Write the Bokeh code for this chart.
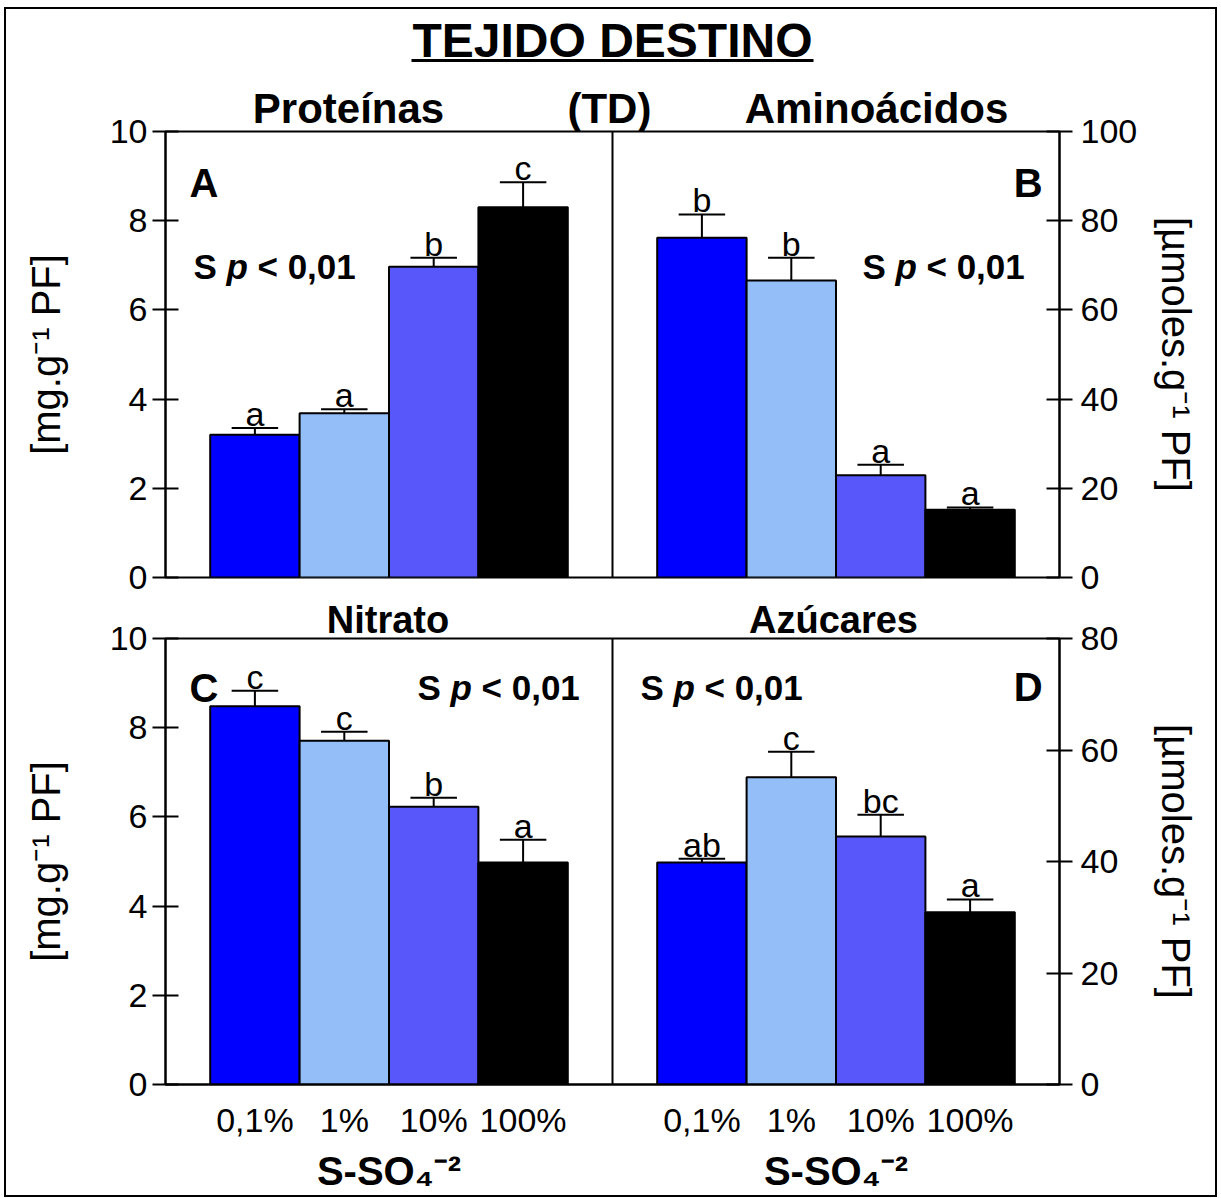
from bokeh.plotting import figure
from bokeh.models import (Range1d, LinearAxis, FixedTicker, Span, Label,
                          ColumnDataSource)
from bokeh.core.properties import value
from bokeh.layouts import column
from bokeh.embed import file_html
from bokeh.resources import INLINE

# ---------------- data ----------------
categories = ["0,1%", "1%", "10%", "100%"]
bar_colors = ["#0000FF", "#93BEF7", "#5858FA", "#000000"]

prot_vals = [3.20, 3.68, 6.97, 8.30]
prot_err = [0.15, 0.09, 0.20, 0.56]
prot_sig = ["a", "a", "b", "c"]

amino_vals = [76.2, 66.6, 22.9, 15.2]
amino_err = [5.2, 5.1, 2.4, 0.5]
amino_sig = ["b", "b", "a", "a"]

nitr_vals = [8.48, 7.71, 6.23, 4.98]
nitr_err = [0.35, 0.20, 0.20, 0.51]
nitr_sig = ["c", "c", "b", "a"]

azuc_vals = [39.8, 55.1, 44.5, 30.9]
azuc_err = [0.7, 4.6, 3.9, 2.3]
azuc_sig = ["ab", "c", "bc", "a"]

left_ticks = [0, 2, 4, 6, 8, 10]
amino_ticks = [0, 20, 40, 60, 80, 100]
azuc_ticks = [0, 20, 40, 60, 80]

main_title = "TEJIDO DESTINO"
top_titles = ["Prote\u00ednas", "(TD)", "Amino\u00e1cidos"]
bottom_titles = ["Nitrato", "Az\u00facares"]
x_title = "S-SO\u2084\u207b\u00b2"
y_left_title = "[mg.g\u207b\u00b9 PF]"
y_right_title = "[\u00b5moles.g\u207b\u00b9 PF]"

FONT = "Liberation Sans"

# slot positions: left panel 1..4, right panel 6..9 (x range 0..10)
left_x = [i + 1 for i in range(len(categories))]
right_x = [i + 6 for i in range(len(categories))]

FW, FH = 894, 446
PX_X = FW / 10.0
FRAME_L = 165.0
TOP_FRAME_BOTTOM = 577.0
BOT_FRAME_BOTTOM = 1084.0


def tx(sx):
    return round((sx - FRAME_L) / PX_X, 3)


def ty_top(sy):
    return (TOP_FRAME_BOTTOM - sy) / (FH / 10.0)


def ty_bot(sy):
    return (BOT_FRAME_BOTTOM - sy) / (FH / 10.0)


def make_fig(top_border, bottom_border, right_max, right_ticks, right_standoff, x_loc):
    p = figure(frame_width=FW, frame_height=FH,
               x_range=Range1d(0, 10), y_range=Range1d(0, 10),
               min_border_left=159, min_border_right=156,
               min_border_top=top_border, min_border_bottom=bottom_border,
               x_axis_location=x_loc,
               output_backend="svg", toolbar_location=None)
    p.extra_y_ranges = {"r": Range1d(0, right_max)}
    p.add_layout(LinearAxis(y_range_name="r"), "right")
    p.grid.visible = False
    p.outline_line_color = "black"
    p.outline_line_width = 2
    p.background_fill_color = "white"
    p.border_fill_color = "white"
    for ax, ticks, standoff, lbl, lstand in (
            (p.left[0], left_ticks, 5, y_left_title, 39),
            (p.right[0], right_ticks, 8, y_right_title, right_standoff)):
        ax.ticker = FixedTicker(ticks=ticks)
        ax.major_tick_in = 13
        ax.major_tick_out = 13
        ax.minor_tick_in = 0
        ax.minor_tick_out = 0
        ax.axis_line_width = 2
        ax.major_tick_line_width = 2
        ax.major_label_text_font = FONT
        ax.major_label_text_font_size = "34px"
        ax.major_label_text_color = "black"
        ax.major_label_standoff = standoff
        ax.axis_label = lbl
        ax.axis_label_text_font = FONT
        ax.axis_label_text_font_size = "40px"
        ax.axis_label_text_font_style = "normal"
        ax.axis_label_text_color = "black"
        ax.axis_label_standoff = lstand
    p.add_layout(Span(location=5, dimension="height", line_color="black", line_width=2))
    return p


def text_axis(p, side, positions, labels, size, standoff):
    ax = LinearAxis(ticker=FixedTicker(ticks=positions),
                    major_label_overrides={k: v for k, v in zip(positions, labels)})
    ax.axis_line_color = None
    ax.major_tick_in = 0
    ax.major_tick_out = 0
    ax.minor_tick_in = 0
    ax.minor_tick_out = 0
    ax.major_label_text_font = FONT
    ax.major_label_text_font_size = size
    ax.major_label_text_font_style = "bold"
    ax.major_label_text_color = "black"
    ax.major_label_standoff = standoff
    p.add_layout(ax, side)
    return ax


def draw_panel(p, xs, vals, errs, sig, px_unit, range_name=None):
    kw = {} if range_name is None else {"y_range_name": range_name}
    tops = [v + e for v, e in zip(vals, errs)]
    src = ColumnDataSource(dict(
        x=xs, top=vals, et=tops,
        cl=[x - 0.26 for x in xs], cr=[x + 0.26 for x in xs],
        ly=[t + 14.0 / px_unit for t in tops],
        color=bar_colors, sig=sig))
    p.vbar(x="x", top="top", bottom=0, width=1, fill_color="color",
           line_color="black", line_width=2, source=src, **kw)
    p.segment(x0="x", y0="top", x1="x", y1="et", line_color="black",
              line_width=2, source=src, **kw)
    p.segment(x0="cl", y0="et", x1="cr", y1="et", line_color="black",
              line_width=2, source=src, **kw)
    p.text(x="x", y="ly", text="sig", text_align="center",
           text_baseline="alphabetic", text_font=value(FONT),
           text_font_size="34px", text_color="black", source=src, **kw)


def lab(p, x, y, text, size, style="normal", align="left"):
    p.add_layout(Label(x=x, y=y, text=text, text_font=FONT,
                       text_font_size=size, text_font_style=style,
                       text_align=align, text_baseline="alphabetic",
                       text_color="black"))


def sig_text(p, left_sx, y):
    lab(p, tx(left_sx), y, "S", "35px", "bold")
    lab(p, tx(left_sx + 33), y, "p", "35px", "bold italic")
    lab(p, tx(left_sx + 64), y, "< 0,01", "35px", "bold")


# ---------------- top row (A, B) ----------------
p1 = make_fig(122, 18, 100, amino_ticks, 14, None)
draw_panel(p1, left_x, prot_vals, prot_err, prot_sig, 44.6)
draw_panel(p1, right_x, amino_vals, amino_err, amino_sig, 4.46, "r")

t1 = text_axis(p1, "above", [tx(348), tx(609), tx(876)], top_titles, "42px", 0)
t1.axis_label = "\u00a0"
t1.axis_label_text_font_size = "14px"
t1.axis_label_standoff = 2

t2 = LinearAxis(ticker=FixedTicker(ticks=[]), bounds=(tx(411), tx(813)))
t2.axis_line_width = 3
t2.axis_line_color = "black"
t2.major_tick_in = 0
t2.major_tick_out = 0
t2.minor_tick_in = 0
t2.minor_tick_out = 0
t2.major_label_standoff = 0
t2.axis_label = main_title
t2.axis_label_text_font = FONT
t2.axis_label_text_font_size = "48px"
t2.axis_label_text_font_style = "bold"
t2.axis_label_text_color = "black"
t2.axis_label_standoff = -6
p1.add_layout(t2, "above")

lab(p1, tx(189), ty_top(182), "A", "40px", "bold")
lab(p1, tx(1042), ty_top(182), "B", "40px", "bold", "right")
sig_text(p1, 193, ty_top(266))
sig_text(p1, 862, ty_top(266))

# ---------------- bottom row (C, D) ----------------
p2 = make_fig(41, 110, 80, azuc_ticks, 33, "below")
xa = p2.below[0]
xa.ticker = FixedTicker(ticks=left_x + right_x)
overrides = {x: c for x, c in zip(left_x, categories)}
overrides.update({x: c for x, c in zip(right_x, categories)})
xa.major_label_overrides = overrides
xa.major_tick_in = 0
xa.major_tick_out = 0
xa.minor_tick_in = 0
xa.minor_tick_out = 0
xa.axis_line_width = 2
xa.major_label_text_font = FONT
xa.major_label_text_font_size = "34px"
xa.major_label_text_color = "black"
xa.major_label_standoff = 16

text_axis(p2, "below", [2.5, 7.5], [x_title, x_title], "40px", 7)
text_axis(p2, "above", [tx(387.5), tx(833)], bottom_titles, "38px", -2)

draw_panel(p2, left_x, nitr_vals, nitr_err, nitr_sig, 44.6)
draw_panel(p2, right_x, azuc_vals, azuc_err, azuc_sig, 5.575, "r")

lab(p2, tx(189), ty_bot(687), "C", "40px", "bold")
lab(p2, tx(1042), ty_bot(686), "D", "40px", "bold", "right")
sig_text(p2, 417, ty_bot(687))
sig_text(p2, 640, ty_bot(687))

layout = column(p1, p2, styles={"border": "2px solid black",
                                "margin-left": "4px", "margin-top": "7px"})

open("out.html", "w").write(file_html(layout, INLINE))
